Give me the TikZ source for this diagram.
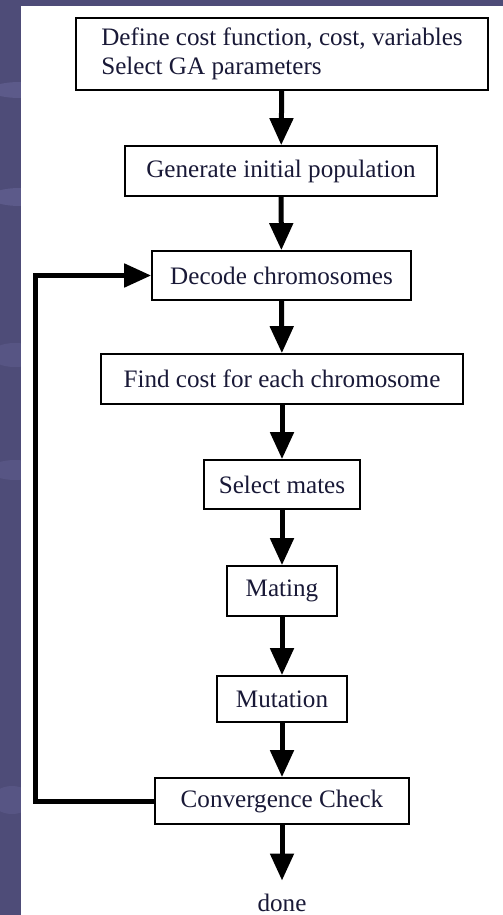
\documentclass[tikz,border=0pt]{standalone}
\usepackage{fontspec}
\setmainfont{Liberation Serif}
\usetikzlibrary{arrows.meta}
\definecolor{slide}{RGB}{78,76,120}
\definecolor{swoosh}{RGB}{110,108,160}
\definecolor{ink}{RGB}{25,25,55}
\tikzset{
	box/.style={draw=black, line width=1pt, fill=white, text=ink, inner sep=0pt, minimum height=1cm, font=\fontsize{14.3}{16.5}\selectfont},
	flow/.style={-{Triangle[width=0.46cm, length=0.54cm]}, line width=0.1cm}
}
\begin{document}
\begin{tikzpicture}[x=0.02cm, y=-0.02cm]
	% Nền slide
	\fill[slide] (0,0) rectangle (503,915);
	\begin{scope}
		\clip (0,0) rectangle (21,915);
		\fill[swoosh, opacity=0.45] (20,90) ellipse (30 and 8);
		\fill[swoosh, opacity=0.45] (20,197) ellipse (30 and 9);
		\fill[swoosh, opacity=0.3] (15,355) ellipse (25 and 12);
		\fill[swoosh, opacity=0.3] (15,470) ellipse (25 and 10);
		\fill[swoosh, opacity=0.3] (12,800) ellipse (20 and 14);
	\end{scope}
	\fill[white] (21,6) rectangle (503,915);
	
	% Các bước
	\node[box, minimum width=8.24cm, minimum height=1.44cm, align=left] (define) at (282,54) {Define cost function, cost, variables\\Select GA parameters};
	\node[box, minimum width=6.24cm] (generate) at (281,171) {Generate initial population};
	\node[box, minimum width=5.18cm, minimum height=0.98cm] (decode) at (281.5,275.5) {Decode chromosomes};
	\node[box, minimum width=7.24cm] (findcost) at (282,379) {Find cost for each chromosome};
	\node[box, minimum width=3.12cm, minimum height=0.98cm] (select) at (282,484.5) {Select mates};
	\node[box, minimum width=2.2cm] (mating) at (282,591) {Mating};
	\node[box, minimum width=2.6cm, minimum height=0.92cm] (mutation) at (282,699) {Mutation};
	\node[box, minimum width=5.08cm, minimum height=0.92cm] (converge) at (282,801) {Convergence Check};
	\node[box, draw=none, fill=none, minimum height=0pt, inner sep=1pt] (done) at (282,903) {done};
	
	% Mũi tên
	\draw[flow] (define) -- (generate);
	\draw[flow] (generate) -- (decode);
	\draw[flow] (decode) -- (findcost);
	\draw[flow] (findcost) -- (select);
	\draw[flow] (select) -- (mating);
	\draw[flow] (mating) -- (mutation);
	\draw[flow] (mutation) -- (converge);
	\draw[flow, shorten >=0.22cm] (converge) -- (done);
	
	% Vòng lặp
	\coordinate (loopx) at (35,0);
	\draw[flow] (converge.west) -- (converge.west -| loopx) |- (decode.west);
\end{tikzpicture}
\end{document}
